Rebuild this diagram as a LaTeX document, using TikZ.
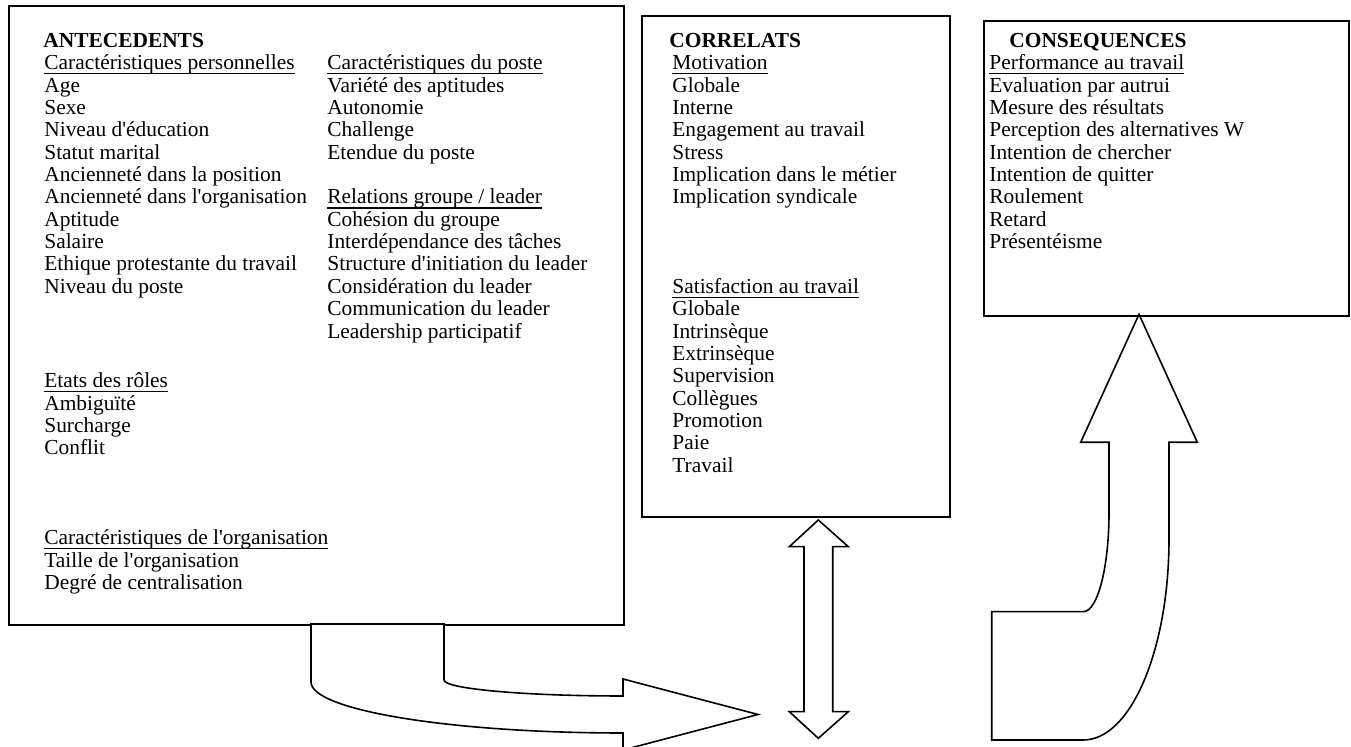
\documentclass[tikz,border=0pt]{standalone}
\usepackage{fontspec}
\setmainfont{Liberation Serif}
\newcommand\tlines[1]{\vtop{\baselineskip=11.175pt\lineskiplimit=-100pt\lineskip=0pt\halign{##\hfil\cr#1\crcr}}}
\newcommand\ulx[1]{\setbox0=\hbox{#1}\rlap{\rule[-2.3pt]{\wd0}{0.6pt}}\box0}
\newcommand\ap{\textquotesingle}
\newcommand\fs{\fontsize{10.7pt}{11.175pt}\selectfont}
\begin{document}
\begin{tikzpicture}[x=0.5pt,y=-0.5pt,
  box/.style={draw,line width=1pt,fill=white,inner sep=0pt,anchor=north west},
  arr/.style={draw,line width=0.8pt,fill=white,line join=miter},
  txt/.style={anchor=base west,inner sep=0pt,font=\fs}]
\useasboundingbox (0,0) rectangle (1351,747);
% boxes
\node[box,minimum width=307.75pt,minimum height=309.5pt] (ante) at (7.5,5) {};
\node[box,minimum width=154.15pt,minimum height=250.5pt] (corr) at (640.7,15) {};
\node[box,minimum width=182.2pt,minimum height=147.5pt] (cons) at (983.3,20) {};
% arrows
\draw[arr] (311,624) -- (311,682) .. controls (311,710.2) and (450.7,733) .. (623,733)
  -- (623,750) -- (758,714.5) -- (623,679) -- (623,696)
  .. controls (524.1,696) and (444,688.8) .. (444,680) -- (444,624) -- cycle;
\draw[arr] (818.3,520) -- (848.3,546.7) -- (832.7,546.7) -- (832.7,711.7) -- (848.3,711.7)
  -- (818.3,738.3) -- (789.3,711.7) -- (804,711.7) -- (804,546.7) -- (789.3,546.7) -- cycle;
\draw[arr] (1139,314.3) -- (1197.3,442.3) -- (1169,442.3) -- (1169,539)
  .. controls (1169,650) and (1130.6,740) .. (1083.3,740)
  -- (991.7,740) -- (991.7,611.7) -- (1083.3,611.7)
  .. controls (1097.5,611.7) and (1109,567.5) .. (1109,513)
  -- (1109,442.3) -- (1080.7,442.3) -- cycle;
% texts
\node[txt] (anteH) at (43,47.5) {\textbf{ANTECEDENTS}};
\node[txt] (anteA) at (44,69.85) {\tlines{\ulx{Caractéristiques personnelles}\cr
Age\cr Sexe\cr Niveau d\ap{}éducation\cr Statut marital\cr Ancienneté dans la position\cr
Ancienneté dans l\ap{}organisation\cr Aptitude\cr Salaire\cr Ethique protestante du travail\cr
Niveau du poste}};
\node[txt] (anteR) at (44,387.75) {\tlines{\ulx{Etats des rôles}\cr Ambiguïté\cr Surcharge\cr Conflit}};
\node[txt] (anteO) at (44,544.7) {\tlines{\ulx{Caractéristiques de l\ap{}organisation}\cr
Taille de l\ap{}organisation\cr Degré de centralisation}};
\node[txt] (anteB) at (327,69.85) {\tlines{\ulx{Caractéristiques du poste}\cr
Variété des aptitudes\cr Autonomie\cr Challenge\cr Etendue du poste\cr\cr
\ulx{Relations groupe / leader}\cr Cohésion du groupe\cr Interdépendance des tâches\cr
Structure d\ap{}initiation du leader\cr Considération du leader\cr Communication du leader\cr
Leadership participatif}};
\node[txt] (corrH) at (669,47.5) {\textbf{CORRELATS}};
\node[txt] (corrA) at (672,69.85) {\tlines{\ulx{Motivation}\cr Globale\cr Interne\cr
Engagement au travail\cr Stress\cr Implication dans le métier\cr Implication syndicale\cr\cr\cr\cr
\ulx{Satisfaction au travail}\cr Globale\cr Intrinsèque\cr Extrinsèque\cr Supervision\cr
Collègues\cr Promotion\cr Paie\cr Travail}};
\node[txt] (consH) at (1009,47.5) {\textbf{CONSEQUENCES}};
\node[txt] (consA) at (989,69.85) {\tlines{\ulx{Performance au travail}\cr Evaluation par autrui\cr
Mesure des résultats\cr Perception des alternatives W\cr Intention de chercher\cr
Intention de quitter\cr Roulement\cr Retard\cr Présentéisme}};
\end{tikzpicture}
\end{document}
